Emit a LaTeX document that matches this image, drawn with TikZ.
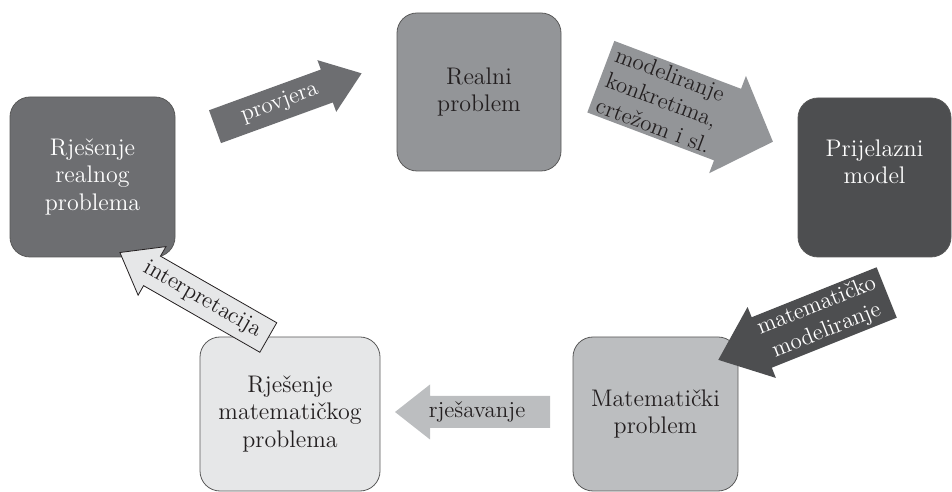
\documentclass[tikz,border=0pt]{standalone}
\usepackage{fontspec}
\usepackage{tikz}

\definecolor{solgray}{HTML}{6D6E71}
\definecolor{realgray}{HTML}{939598}
\definecolor{modelgray}{HTML}{4D4E50}
\definecolor{mathgray}{HTML}{BCBEC0}
\definecolor{mathsolgray}{HTML}{E6E7E8}
\definecolor{inkgray}{HTML}{231F20}

\tikzset{
    stage/.style={rectangle, rounded corners=10pt, draw=black!65, line width=0.4pt, align=center, inner sep=0pt, text=inkgray, font=\fontsize{12}{13.7}\selectfont},
    arrtext/.style={inner sep=0pt, align=center, text=inkgray, font=\fontsize{11.5}{13.5}\selectfont}
}

\begin{document}
\begin{tikzpicture}[x=0.5pt, y=0.5pt]
    \useasboundingbox (0,0) rectangle (952,492);

    % the five stages
    \node[stage, fill=solgray, text=white, minimum width=82.5pt, minimum height=80pt] (rrp) at (92.5,315) {Rješenje\\realnog\\problema};
    \node[stage, fill=realgray, minimum width=82pt, minimum height=79pt] (rp) at (479,400) {Realni\\problem};
    \node[stage, fill=modelgray, minimum width=76.5pt, minimum height=79.5pt] (pm) at (874.5,314.5) {};
    \node[stage, draw=none, fill=none, text=white] (pmtext) at ([yshift=8pt]pm.center) {Prijelazni\\model};
    \node[stage, fill=mathgray, minimum width=82.5pt, minimum height=77pt] (mp) at (655.5,78) {Matematički\\problem};
    \node[stage, fill=mathsolgray, minimum width=90pt, minimum height=77pt] (rmp) at (290,78) {Rješenje\\matematičkog\\problema};

    % block arrows: tail x/y, angle, length, shaft, head width, head length, text pos, fill, draw, name
    \foreach \px/\py/\ang/\len/\sw/\hw/\hl/\tp/\fc/\dc/\nm in {
        215/365.3/20/156/35/55/37/69/solgray/none/provjera,
        600.8/415.3/-20.7/184/76.5/104/48.5/6/realgray/none/modeliranje,
        886.7/199.5/201.8/181.4/54.3/76.4/46.8/70/modelgray/none/matmod,
        550/80/180/155/32/55/35/73/mathgray/none/rjesavanje,
        268.3/154.5/150.2/171/34/56/37/76/mathsolgray/inkgray/interpretacija}
    {
        \begin{scope}[shift={(\px,\py)}, rotate=\ang]
            \filldraw[fill=\fc, draw=\dc, line width=0.4pt] (0,-\sw/2) -- ({\len-\hl},-\sw/2) -- ({\len-\hl},-\hw/2) -- (\len,0) -- ({\len-\hl},\hw/2) -- ({\len-\hl},\sw/2) -- (0,\sw/2) -- cycle;
            \coordinate (\nm) at (\tp,0);
        \end{scope}
    }

    % arrow labels
    \node[arrtext, rotate=20, text=white] (tprovjera) at (provjera) {provjera};
    \node[arrtext, rotate=-20.7, anchor=west, align=left] (tmodeliranje) at (modeliranje) {modeliranje\\konkretima,\\crtežom i sl.};
    \node[arrtext, rotate=21.8, text=white] (tmatmod) at (matmod) {matematičko\\modeliranje};
    \node[arrtext] (trjesavanje) at (rjesavanje) {rješavanje};
    \node[arrtext, rotate=-29.8] (tinterpretacija) at (interpretacija) {interpretacija};
\end{tikzpicture}
\end{document}
